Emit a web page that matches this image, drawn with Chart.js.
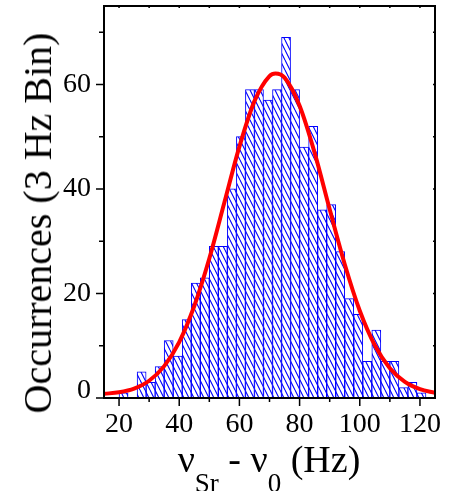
<!DOCTYPE html>
<html>
<head>
<meta charset="utf-8">
<script src="https://cdn.jsdelivr.net/npm/chart.js@4.4.1/dist/chart.umd.min.js"></script>
<style>
  html, body { margin: 0; padding: 0; background: #fff; }
  #wrap { position: relative; width: 455px; height: 491px; overflow: hidden; }
  #chart { position: absolute; left: 0; top: 0; }
  .axis-title { position: absolute; font-family: "Liberation Serif", "Times New Roman", serif; color: #000; white-space: nowrap; line-height: 1; }
  #ytitle { left: 38px; top: 223px; font-size: 40px; transform: translate(-50%, -50%) rotate(-90deg); }
  #xtitle { left: 269px; top: 440px; font-size: 38px; transform: translateX(-50%); }
  #xtitle .sub { font-size: 27px; position: relative; top: 20px; }
</style>
</head>
<body>
<div id="wrap">
  <canvas id="chart" width="455" height="491"></canvas>
  <div id="ytitle" class="axis-title">Occurrences (3 Hz Bin)</div>
  <div id="xtitle" class="axis-title">ν<span class="sub">Sr</span> - ν<span class="sub">0</span> (Hz)</div>
</div>
<script>
// histogram, 3 Hz bins (centres)
const binCenters = [21.5, 24.5, 27.5, 30.5, 33.5, 36.5, 39.5, 42.5, 45.5, 48.5,
  51.5, 54.5, 57.5, 60.5, 63.5, 66.5, 69.5, 72.5, 75.5, 78.5,
  81.5, 84.5, 87.5, 90.5, 93.5, 96.5, 99.5, 102.5, 105.5, 108.5,
  111.5, 114.5, 117.5, 120.5];
const counts = [1, 0, 5, 3, 6, 11, 8, 15, 22, 23,
  29, 29, 40, 50, 59, 59, 57, 59, 69, 59,
  48, 52, 36, 37, 28, 19, 16, 7, 13, 7,
  7, 2, 3, 1];

// gaussian fit curve
const fitX = [15, 20, 25, 30, 35, 40, 45, 50, 55, 60, 65, 70, 72, 75, 80, 85, 90, 95, 100, 105, 110, 115, 120, 125];
const fitY = [0.8, 1.1, 1.8, 3.3, 6.1, 10.7, 17.6, 26.7, 37.4, 48.1, 56.8, 61.6, 62.1, 61.3, 55.9, 46.9, 36.1, 25.6, 16.7, 10.1, 5.7, 3.1, 1.7, 1.0];

const xMajorTicks = [20, 40, 60, 80, 100, 120];
const xMinorTicks = [30, 50, 70, 90, 110];
const yMajorTicks = [0, 20, 40, 60];
const yMinorTicks = [10, 30, 50, 70];

const SERIF = "'Liberation Serif', 'Times New Roman', serif";

function hatchPattern(ctx) {
  const c = document.createElement("canvas");
  c.width = 5; c.height = 10;
  const g = c.getContext("2d");
  g.fillStyle = "#fff";
  g.fillRect(0, 0, 5, 10);
  g.strokeStyle = "#0000ff";
  g.lineWidth = 1.1;
  g.beginPath();
  [-5, 0, 5].forEach((dx) => { g.moveTo(dx, 0); g.lineTo(dx + 5, 10); });
  g.stroke();
  return ctx.createPattern(c, "repeat");
}

const asTicks = (arr) => arr.slice().sort((a, b) => a - b).map((v) => ({ value: v }));

// box frame with ticks on all four sides
const frameTicks = {
  id: "frameTicks",
  afterDatasetsDraw(chart) {
    const { ctx, chartArea: a, scales: { x, y } } = chart;
    ctx.save();
    ctx.strokeStyle = "#000";
    ctx.lineWidth = 1.5;
    ctx.beginPath();
    const seg = (x1, y1, x2, y2) => { ctx.moveTo(x1, y1); ctx.lineTo(x2, y2); };
    xMajorTicks.concat(xMinorTicks).forEach((v) => {
      const p = x.getPixelForValue(v);
      const len = xMajorTicks.includes(v) ? 8 : 4;
      seg(p, a.bottom, p, a.bottom + len);
      seg(p, a.top, p, a.top + 2);
    });
    yMajorTicks.concat(yMinorTicks).forEach((v) => {
      const p = y.getPixelForValue(v);
      const len = yMajorTicks.includes(v) ? 8 : 5;
      seg(a.left - len, p, a.left, p);
      seg(a.right - 2, p, a.right, p);
    });
    ctx.stroke();
    ctx.lineWidth = 2;
    ctx.strokeRect(a.left, a.top, a.right - a.left, a.bottom - a.top);
    ctx.restore();
  },
};

const canvas = document.getElementById("chart");
const ctx = canvas.getContext("2d");

new Chart(ctx, {
  type: "bar",
  data: {
    datasets: [
      {
        type: "line",
        data: fitX.map((v, i) => ({ x: v, y: fitY[i] })),
        borderColor: "#ff0000",
        borderWidth: 4,
        pointRadius: 0,
        cubicInterpolationMode: "monotone",
        fill: false,
        order: 0,
      },
      {
        type: "bar",
        data: binCenters.map((v, i) => ({ x: v, y: counts[i] })),
        backgroundColor: hatchPattern(ctx),
        borderColor: "#0000ff",
        borderWidth: 1,
        barPercentage: 1,
        categoryPercentage: 1,
        order: 1,
      },
    ],
  },
  options: {
    responsive: false,
    animation: false,
    layout: { padding: { top: 6, right: 20, left: 0, bottom: 0 } },
    plugins: { legend: { display: false }, tooltip: { enabled: false } },
    scales: {
      x: {
        type: "linear",
        min: 15,
        max: 125,
        offset: false,
        grid: { display: false, drawTicks: false },
        border: { display: false },
        ticks: {
          autoSkip: false,
          maxRotation: 0,
          minRotation: 0,
          padding: 10,
          color: "#000",
          font: { family: SERIF, size: 28 },
          callback: (v) => (xMajorTicks.includes(v) ? String(v) : ""),
        },
        afterBuildTicks: (s) => { s.ticks = asTicks(xMajorTicks.concat(xMinorTicks)); },
        afterFit: (s) => { s.height = 93; s.paddingLeft = 0; s.paddingRight = 0; },
      },
      y: {
        min: 0,
        max: 75,
        grid: { display: false, drawTicks: false },
        border: { display: false },
        ticks: {
          padding: 13,
          color: "#000",
          // the "0" label sits a little above its tick, as in the original
          font: (c) => (c.tick && c.tick.value === 0
            ? { family: SERIF, size: 28, lineHeight: "15px" }
            : { family: SERIF, size: 28 }),
          callback: (v) => (v === 0 ? ["0", ""] : yMajorTicks.includes(v) ? String(v) : ""),
        },
        afterBuildTicks: (s) => { s.ticks = asTicks(yMajorTicks.concat(yMinorTicks)); },
        afterFit: (s) => { s.width = 104; s.paddingTop = 0; s.paddingBottom = 0; },
      },
    },
  },
  plugins: [frameTicks],
});
</script>
</body>
</html>
